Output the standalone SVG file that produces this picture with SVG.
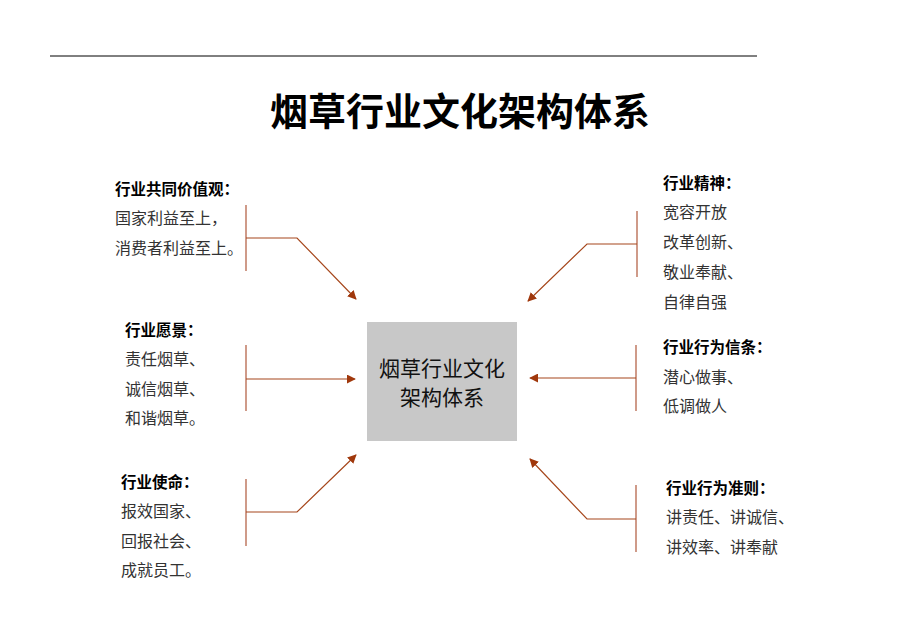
<svg xmlns="http://www.w3.org/2000/svg" width="920" height="637" viewBox="0 0 920 637">
<style>
text{font-family:"Liberation Serif","Noto Sans CJK SC",serif;fill:#222}
.h{font-size:15.5px;font-weight:bold;fill:#000;font-family:"Liberation Sans","Noto Sans CJK SC",sans-serif}
.b{font-size:16px;fill:#333}
.title{font-size:38px;font-weight:bold;fill:#000;font-family:"Liberation Sans","Noto Sans CJK SC",sans-serif}
.ct{font-size:21px;fill:#111;font-family:"Liberation Sans","Noto Sans CJK SC",sans-serif}
.br{stroke:#b5654a;stroke-width:1.3;fill:none}
.cn{stroke:#a6471c;stroke-width:1.2;fill:none}
</style>
<defs>
<marker id="ah" viewBox="0 0 10 10" refX="9" refY="5" markerWidth="9" markerHeight="9" markerUnits="userSpaceOnUse" orient="auto">
<path d="M0,0 L10,5 L0,10 z" fill="#a0380c"/>
</marker>
</defs>
<rect width="920" height="637" fill="#fff"/>
<line x1="50" y1="56" x2="757" y2="56" stroke="#000" stroke-width="1"/>
<text class="title" x="460" y="125" text-anchor="middle">烟草行业文化架构体系</text>

<g id="center">
<rect x="367" y="322" width="150" height="119" fill="#c8c8c8"/>
<text class="ct" x="442" y="376" text-anchor="middle">烟草行业文化</text>
<text class="ct" x="442" y="405" text-anchor="middle">架构体系</text>
</g>

<g id="values">
<text class="h" x="115" y="195">行业共同价值观：</text>
<text class="b" x="115" y="224">国家利益至上，</text>
<text class="b" x="115" y="254">消费者利益至上。</text>
</g>
<g id="spirit">
<text class="h" x="663" y="189">行业精神：</text>
<text class="b" x="663" y="218">宽容开放</text>
<text class="b" x="663" y="248">改革创新、</text>
<text class="b" x="663" y="278">敬业奉献、</text>
<text class="b" x="663" y="308">自律自强</text>
</g>
<g id="vision">
<text class="h" x="125" y="336">行业愿景：</text>
<text class="b" x="125" y="365">责任烟草、</text>
<text class="b" x="125" y="395">诚信烟草、</text>
<text class="b" x="125" y="424">和谐烟草。</text>
</g>
<g id="creed">
<text class="h" x="663" y="353">行业行为信条：</text>
<text class="b" x="663" y="383">潜心做事、</text>
<text class="b" x="663" y="412">低调做人</text>
</g>
<g id="mission">
<text class="h" x="121" y="488">行业使命：</text>
<text class="b" x="121" y="517">报效国家、</text>
<text class="b" x="121" y="547">回报社会、</text>
<text class="b" x="121" y="576">成就员工。</text>
</g>
<g id="rules">
<text class="h" x="666" y="494">行业行为准则：</text>
<text class="b" x="666" y="523">讲责任、讲诚信、</text>
<text class="b" x="666" y="553">讲效率、讲奉献</text>
</g>

<g id="connectors">
<line class="br" x1="246" y1="205" x2="246" y2="271"/>
<polyline class="cn" points="246,238 297,238 356,299" marker-end="url(#ah)"/>
<line class="br" x1="637" y1="211" x2="637" y2="277"/>
<polyline class="cn" points="637,244 587,244 528,301" marker-end="url(#ah)"/>
<line class="br" x1="246" y1="345" x2="246" y2="411"/>
<polyline class="cn" points="246,379 355,379" marker-end="url(#ah)"/>
<line class="br" x1="636" y1="345" x2="636" y2="411"/>
<polyline class="cn" points="636,378 530,378" marker-end="url(#ah)"/>
<line class="br" x1="246" y1="479" x2="246" y2="546"/>
<polyline class="cn" points="246,512 297,512 356,455" marker-end="url(#ah)"/>
<line class="br" x1="636" y1="485" x2="636" y2="552"/>
<polyline class="cn" points="636,519 587,519 530,459" marker-end="url(#ah)"/>
</g>
</svg>
